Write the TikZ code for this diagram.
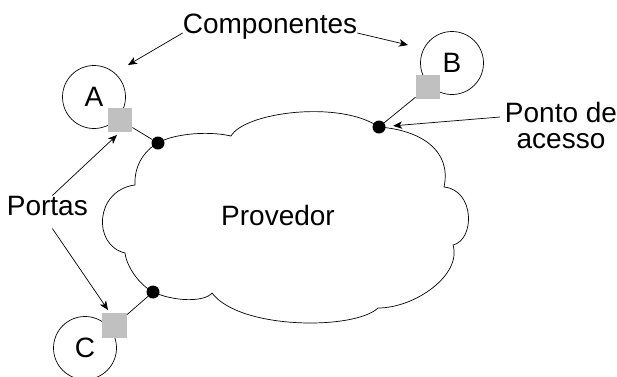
\documentclass[tikz,border=0pt]{standalone}
\usepackage{fontspec}
\setmainfont{Liberation Sans}
\usetikzlibrary{arrows.meta}
\definecolor{portgray}{RGB}{192,192,192}

\begin{document}
\begin{tikzpicture}[x=1pt,y=1pt]
	\tikzstyle{every node}+=[inner sep=0pt, font=\fontsize{28}{26}\selectfont]
	\tikzstyle{comp}=[draw, circle, minimum size=63pt, line width=0.7pt]
	\tikzstyle{port}=[fill=portgray, minimum size=24.5pt]
	\tikzstyle{access}=[fill=black, circle, minimum size=13pt]
	\tikzstyle{pointer}=[-{Stealth[length=9pt,width=7.5pt,inset=2.5pt]}, line width=0.7pt]
	\useasboundingbox (0,0) rectangle (617,-376);
	% provider cloud
	\draw [black, line width=0.7pt] (158,-143) .. controls (170,-135) and (205,-130) .. (231,-136)
		.. controls (245,-112) and (340,-100) .. (379,-127)
		.. controls (420,-130) and (452,-150) .. (444,-187)
		.. controls (475,-190) and (475,-240) .. (453,-245)
		.. controls (462,-275) and (415,-308) .. (378,-308)
		.. controls (355,-330) and (240,-330) .. (212,-293)
		.. controls (205,-302) and (175,-302) .. (153,-292)
		.. controls (140,-285) and (127,-268) .. (125,-253)
		.. controls (92,-245) and (95,-190) .. (135,-185)
		.. controls (134,-165) and (145,-150) .. cycle;
	% components
	\node [comp] (compA) at (94,-97) {A};
	\node [comp] (compB) at (452,-63) {B};
	\node [comp] (compC) at (85,-348) {C};
	% ports
	\node [port] (portA) at (120,-120) {};
	\node [port] (portB) at (428,-87) {};
	\node [port] (portC) at (114.5,-325.5) {};
	% access points on the cloud
	\node [access] (dotA) at (158,-143) {};
	\node [access] (dotB) at (379,-127) {};
	\node [access] (dotC) at (153,-292) {};
	\draw [black, line width=0.7pt] (portA) -- (dotA);
	\draw [black, line width=0.7pt] (portB) -- (dotB);
	\draw [black, line width=0.7pt] (portC) -- (dotC);
	% labels
	\node [anchor=base] (comps) at (270,-33) {Componentes};
	\node [anchor=base, align=center] (ponto) at (561,-148) {Ponto de\\acesso};
	\node [anchor=base east] (portas) at (88,-215) {Portas};
	\node [anchor=base west] (prov) at (221,-225) {Provedor};
	\coordinate (tipA) at (128,-65);
	\coordinate (tipB) at (408,-45);
	\coordinate (tipPA) at (117,-135);
	\coordinate (tipPC) at (108,-310);
	\coordinate (pontoTail) at (500,-117);
	\draw [pointer] (comps.base west) -- (tipA);
	\draw [pointer] (comps.base east) -- (tipB);
	\draw [pointer, shorten >=7.5pt] (pontoTail) -- (dotB);
	\draw [pointer] ([xshift=5pt]portas.north) -- (tipPA);
	\draw [pointer] ([shift={(5pt,-13pt)}]portas.south) -- (tipPC);
\end{tikzpicture}
\end{document}
